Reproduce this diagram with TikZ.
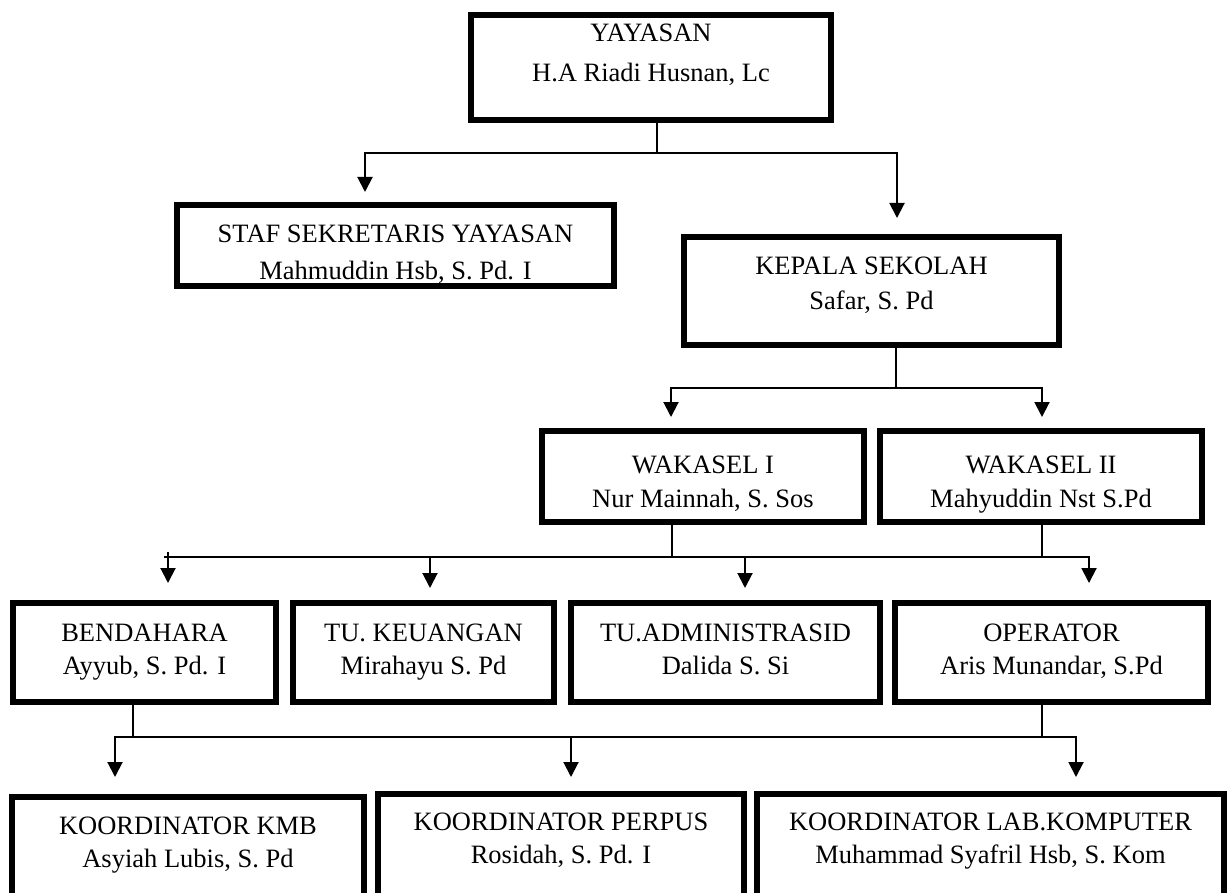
\documentclass[tikz,border=0pt]{standalone}
\usepackage{fontspec}
\setmainfont{Liberation Serif}
\usetikzlibrary{arrows.meta}
\tikzset{
  orgbox/.style={draw, line width=6pt, inner sep=0pt, outer sep=0pt, fill=white},
  conn/.style={line width=2pt},
  arr/.style={line width=2pt, -{Triangle[width=15pt,length=15pt]}},
}
% name, x1, y1, x2, y2 (outer edges), baseline offset, line gap, line 1, line 2
\newcommand\OrgBox[9]{%
  \node[orgbox] (#1) at ({(#2+#4)/2},{(#3+#5)/2})
   {\parbox[t][\dimexpr #5pt-#3pt-6pt\relax][t]{\dimexpr #4pt-#2pt-6pt\relax}{\centering\fontsize{26.5pt}{#7pt}\selectfont\rule{0pt}{\dimexpr #6pt-3pt\relax}#8\\#9}};}
\begin{document}
\begin{tikzpicture}[x=1pt,y=-1pt]
\useasboundingbox (0,0) rectangle (1230,893);
\clip (0,0) rectangle (1230,893);

\OrgBox{yay}{468}{12}{834}{123}{30}{40}{YAYASAN}{H.A Riadi Husnan, Lc}
\OrgBox{staf}{174}{202}{617}{289}{41}{36}{STAF SEKRETARIS YAYASAN}{Mahmuddin Hsb, S. Pd. I}
\OrgBox{kep}{681}{234}{1062}{348}{40}{35}{KEPALA SEKOLAH}{Safar, S. Pd}
\OrgBox{wk1}{539}{428}{867}{525}{45}{34}{WAKASEL I}{Nur Mainnah, S. Sos}
\OrgBox{wk2}{877}{428}{1205}{525}{45}{34}{WAKASEL II}{Mahyuddin Nst S.Pd}
\OrgBox{ben}{10}{600}{279}{705}{41}{33}{BENDAHARA}{Ayyub, S. Pd. I}
\OrgBox{tuk}{290}{600}{557}{705}{41}{33}{TU. KEUANGAN}{Mirahayu S. Pd}
\OrgBox{tua}{568}{600}{883}{705}{41}{33}{TU.ADMINISTRASID}{Dalida S. Si}
\OrgBox{opr}{892}{600}{1211}{705}{41}{33}{OPERATOR}{Aris Munandar, S.Pd}
\OrgBox{kmb}{9}{794}{367}{925}{40}{33}{KOORDINATOR KMB}{Asyiah Lubis, S. Pd}
\OrgBox{per}{375}{791}{747}{925}{39}{33}{KOORDINATOR PERPUS}{Rosidah, S. Pd. I}
\OrgBox{lab}{754}{791}{1227}{925}{39}{33}{KOORDINATOR LAB.KOMPUTER}{Muhammad Syafril Hsb, S. Kom}

% level 1
\coordinate (t1) at (657,153);
\coordinate (a-staf) at (365,192);
\coordinate (a-kep) at (897,218);
\draw[conn] (yay.south -| t1) -- (t1);
\draw[arr] (t1) -| (a-staf);
\draw[arr] (t1) -| (a-kep);

% level 2
\coordinate (t2) at (896,388);
\coordinate (a-wk1) at (671,417);
\coordinate (a-wk2) at (1042,417);
\draw[conn] (kep.south -| t2) -- (t2);
\draw[arr] (t2) -| (a-wk1);
\draw[arr] (t2) -| (a-wk2);

% level 3
\coordinate (t3a) at (671.5,557);
\coordinate (t3b) at (1042,557);
\coordinate (h3l) at (164,557);
\coordinate (s-ben) at (168,552);
\coordinate (s-tuk) at (430,557);
\coordinate (s-tua) at (745,557);
\coordinate (a-ben) at (168,583);
\coordinate (a-tuk) at (430,588);
\coordinate (a-tua) at (745,588);
\coordinate (a-opr) at (1089,583);
\draw[conn] (wk1.south -| t3a) -- (t3a);
\draw[conn] (wk2.south -| t3b) -- (t3b);
\draw[conn] (h3l) -- (t3b);
\draw[arr] (t3b) -| (a-opr);
\draw[arr] (s-ben) -- (a-ben);
\draw[arr] (s-tuk) -- (a-tuk);
\draw[arr] (s-tua) -- (a-tua);

% level 4
\coordinate (t4a) at (133,737);
\coordinate (t4b) at (1042,737);
\coordinate (s-per) at (571,737);
\coordinate (a-kmb) at (115,777);
\coordinate (a-per) at (571,777);
\coordinate (a-lab) at (1076,777);
\draw[conn] (ben.south -| t4a) -- (t4a);
\draw[conn] (opr.south -| t4b) -- (t4b);
\draw[arr] (t4a) -| (a-kmb);
\draw[conn] (t4a) -- (t4b);
\draw[arr] (t4b) -| (a-lab);
\draw[arr] (s-per) -- (a-per);
\end{tikzpicture}
\end{document}
